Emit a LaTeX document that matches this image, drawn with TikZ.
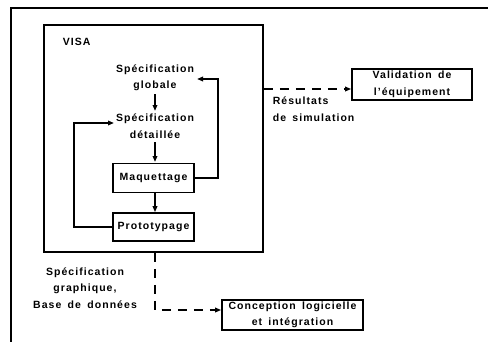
\documentclass[tikz,border=0pt]{standalone}
\usepackage{fontspec}
\setmainfont{Liberation Sans}[LetterSpace=10,WordSpace=1.6]
\usetikzlibrary{arrows.meta,calc}
\begin{document}
\begin{tikzpicture}[x=1pt,y=-1pt,
  line width=1.6pt,
  every node/.style={font=\fontsize{10.5}{16.5}\selectfont\bfseries, inner sep=0pt},
  label text/.style={align=center},
  stagebox/.style={draw, line width=1.6pt, minimum width=81pt, minimum height=29pt},
  outbox/.style={draw, line width=1.6pt, align=center},
  flow/.style={-{Triangle[length=6pt,width=4.5pt]}},
  dashflow/.style={-{Triangle[length=6pt,width=4.5pt]}, dash pattern=on 9pt off 7pt}]
\useasboundingbox (0,0) rectangle (488,341);

% outer frame (open to the right and bottom)
\coordinate (frameBL) at (11,345);
\coordinate (frameTL) at (11,8);
\coordinate (frameTR) at (492,8);
\draw (frameBL) -- (frameTL) -- (frameTR);

% VISA environment
\node[draw, minimum width=219pt, minimum height=227pt] (visa) at (153.5,138.5) {};
\node[anchor=west] (visatitle) at (62,42) {VISA};

% design stages
\node[label text] (glob) at (155,78) {Spécification\\globale};
\node[label text] (det) at (155,126) {Spécification\\détaillée};
\node[stagebox] (maq) at (153.5,178) {Maquettage};
\node[stagebox, minimum height=28pt] (proto) at (153.5,227) {Prototypage};

\draw[flow] (155,94) -- (155,111);
\draw[flow] (155,142) -- (155,162);
\draw[flow] (maq.south -| 155,0) -- (proto.north -| 155,0);

% feedback loops
\coordinate (rloop) at (218,0);
\coordinate (lloop) at (74,0);
\draw[flow] (maq.east) -- (maq.east -| rloop) -- (rloop |- 0,79) -- (197,79);
\draw[flow] (proto.west) -- (proto.west -| lloop) -- (lloop |- 0,123) -- (114,123);

% outputs
\node[outbox, minimum width=120pt, minimum height=31pt] (valid) at (412,84.5) {Validation de\\l'équipement};
\node[outbox, minimum width=141pt, minimum height=30pt] (conc) at (292.5,315) {Conception logicielle\\et intégration};

\node[anchor=north west, align=left] (res) at (272,96) {Résultats\\de simulation};
\node[align=center] (graph) at (85,288) {Spécification\\graphique,\\Base de données};

\draw[dashflow] (visa.east |- 0,89) -- (valid.west |- 0,89);
\draw[dashflow] (visa.south -| 155,0) -- (155,310) -- (conc.west |- 0,310);
\end{tikzpicture}
\end{document}
